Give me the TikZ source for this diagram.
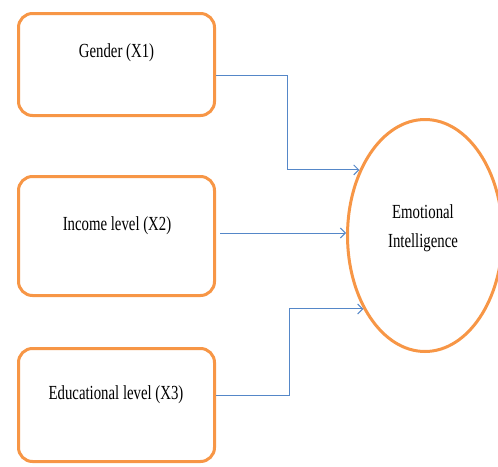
\documentclass[tikz,border=0pt]{standalone}
\usepackage{fontspec}
\setmainfont{Liberation Serif}
\usetikzlibrary{shapes.geometric,arrows.meta,calc}
\definecolor{boxorange}{RGB}{247,150,70}
\definecolor{lineblue}{RGB}{85,135,200}
\newcommand{\stretchtxt}[1]{\scalebox{1}[1.35]{#1}}
\begin{document}
\begin{tikzpicture}[x=1pt,y=1pt,
  varbox/.style={draw=boxorange,line width=3pt,rounded corners=14pt,minimum width=196pt,inner sep=0pt,fill=white},
  txt/.style={inner sep=0pt,font=\fontsize{14.8}{21.9}\selectfont,text=black},
  conn/.style={draw=lineblue,line width=1pt,-{Straight Barb[length=5pt,width=10pt]}},
  ellnode/.style={ellipse,draw=boxorange,line width=3pt,minimum width=155pt,minimum height=232pt,inner sep=0pt}]
\useasboundingbox (0,0) rectangle (498,-466);
% boxes
\node[varbox,minimum height=102pt] (b1) at (116.5,-64.5) {};
\node[varbox,minimum height=119pt] (b2) at (116.5,-236) {};
\node[varbox,minimum height=113pt] (b3) at (116.5,-405) {};
\node[txt] (t1) at (116.5,-53) {\stretchtxt{Gender (X1)}};
\node[txt] (t2) at (117,-226) {\stretchtxt{Income level (X2)}};
\node[txt] (t3) at (116,-395) {\stretchtxt{Educational level (X3)}};
% ellipse
\node[ellnode] (ell) at (425,-235.5) {};
\node[txt] (te) at (423,-227) {\stretchtxt{\begin{tabular}{@{}c@{}}Emotional\\Intelligence\end{tabular}}};
% connectors
\draw[conn] ($(b1.east)+(0,-10.5)$) -| ($(ell.135)+(-72,0)$) -- (ell.135);
\draw[conn] ($(b2.east)+(4,3)$) -- (ell.west |- {$(b2.east)+(4,3)$});
\draw[conn] ($(b3.east)+(0,10)$) -| ($(ell.230)+(-74,0)$) -- (ell.230);
\end{tikzpicture}
\end{document}
